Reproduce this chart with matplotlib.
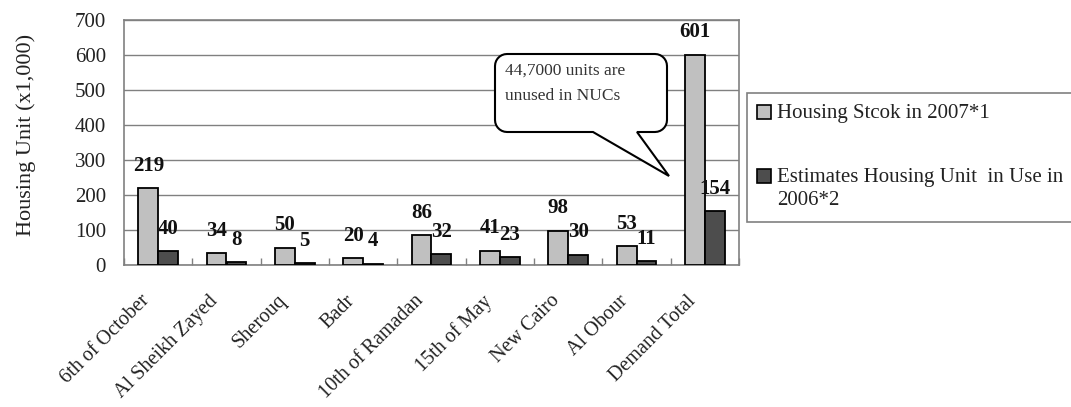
import matplotlib
matplotlib.use("Agg")
import matplotlib.pyplot as plt
import matplotlib.transforms as mtransforms
from matplotlib.path import Path
from matplotlib.patches import PathPatch, Rectangle
import numpy as np

plt.rcParams['font.family'] = ['Liberation Serif', 'DejaVu Serif']

cities = ["6th of October", "Al Sheikh Zayed", "Sherouq", "Badr",
          "10th of Ramadan", "15th of May", "New Cairo", "Al Obour",
          "Demand Total"]
stock_2007 = [219, 34, 50, 20, 86, 41, 98, 53, 601]
in_use_2006 = [40, 8, 5, 4, 32, 23, 30, 11, 154]
y_ticks = [0, 100, 200, 300, 400, 500, 600, 700]

label_stock = "Housing Stcok in 2007*1"
label_use = "Estimates Housing Unit  in Use in\n2006*2"
callout_text = "44,7000 units are\nunused in NUCs"

color_stock = "#c0c0c0"
color_use = "#4d4d4d"
grey_edge = "#808080"
text_color = "#222222"

W, H = 1071, 407
fig = plt.figure(figsize=(W / 100, H / 100), dpi=100)
ax_l, ax_r, ax_t, ax_b = 124, 739, 20, 265
ax = fig.add_axes([ax_l / W, 1 - ax_b / H, (ax_r - ax_l) / W, (ax_b - ax_t) / H])

x = np.arange(len(cities))
bw = 0.29
b1 = ax.bar(x - bw / 2, stock_2007, bw, color=color_stock, edgecolor="black",
            linewidth=1.3, zorder=3)
b2 = ax.bar(x + bw / 2, in_use_2006, bw, color=color_use, edgecolor="black",
            linewidth=1.3, zorder=3)

ax.set_xlim(-0.5, len(cities) - 0.5)
ax.set_ylim(0, 700)
ax.set_yticks(y_ticks)
ax.yaxis.grid(True, color=grey_edge, linewidth=1.0, zorder=0)
for s in ax.spines.values():
    s.set_color(grey_edge)
    s.set_linewidth(1.2)
ax.tick_params(axis='y', length=0, pad=13, labelsize=15, colors=text_color)

ax.set_xticks(x)
ax.set_xticks(np.arange(len(cities) + 1) - 0.5, minor=True)
ax.tick_params(axis='x', which='major', length=0, pad=19, labelsize=14.5)
ax.tick_params(axis='x', which='minor', direction='in', length=5,
               color=grey_edge, width=1)
ax.set_xticklabels(cities, rotation=45, ha='right', va='top',
                   rotation_mode='anchor', color=text_color)
shift = mtransforms.ScaledTranslation(-18 / 100, 0, fig.dpi_scale_trans)
for lab in ax.get_xticklabels():
    lab.set_transform(lab.get_transform() + shift)

ax.set_ylabel("Housing Unit (x1,000)", fontsize=16, color=text_color)
ax.yaxis.set_label_coords((36 - ax_l) / (ax_r - ax_l), (ax_b - 135) / (ax_b - ax_t))

for bars, vals in ((b1, stock_2007), (b2, in_use_2006)):
    for rect, v in zip(bars, vals):
        ax.annotate(str(v), (rect.get_x() + rect.get_width() / 2, v),
                    xytext=(0, 16), textcoords="offset points",
                    ha="center", va="center", fontsize=15, fontweight="bold",
                    color="#111111", zorder=5)

# Speech-bubble callout, laid out in pixels and converted to axes fractions
def to_axes(px, py):
    return ((px - ax_l) / (ax_r - ax_l), (ax_b - py) / (ax_b - ax_t))

bx0, bx1, by0, by1, r = 495, 667, 54, 132, 12
base_l, base_r, tip = 593, 637, (669, 176)
pts = []
def arc(cx, cy, a0, a1):
    for a in np.linspace(np.radians(a0), np.radians(a1), 8):
        pts.append((cx + r * np.cos(a), cy + r * np.sin(a)))
# pixel y grows downward
arc(bx0 + r, by0 + r, 180, 270)
arc(bx1 - r, by0 + r, 270, 360)
arc(bx1 - r, by1 - r, 0, 90)
pts.append((base_r, by1))
pts.append(tip)
pts.append((base_l, by1))
arc(bx0 + r, by1 - r, 90, 180)
pts.append(pts[0])
verts = [to_axes(px, py) for px, py in pts]
codes = [Path.MOVETO] + [Path.LINETO] * (len(verts) - 2) + [Path.CLOSEPOLY]
bubble = PathPatch(Path(verts, codes), facecolor="white", edgecolor="black",
                   linewidth=1.5, transform=ax.transAxes, zorder=6, clip_on=False)
ax.add_patch(bubble)
tx, ty = to_axes(505, 83)
ax.text(tx, ty, callout_text, transform=ax.transAxes, ha="left", va="center",
        fontsize=12.5, color="#333333", linespacing=1.75, zorder=7)

# Legend box drawn by hand so the marker sits beside the first line of each entry
def fig_xy(px, py):
    return (px / W, 1 - py / H)

lx0, ly0, lx1, ly1 = 747, 93, 1080, 222
fx, fy = fig_xy(lx0, ly1)
fig.patches.append(Rectangle((fx, fy), (lx1 - lx0) / W, (ly1 - ly0) / H,
                             transform=fig.transFigure, facecolor="white",
                             edgecolor=grey_edge, linewidth=1.2))
sq = 14
for (row_y, col, lab) in ((112, color_stock, label_stock),
                          (176, color_use, label_use)):
    sx, sy = fig_xy(757, row_y + sq / 2)
    fig.patches.append(Rectangle((sx, sy), sq / W, sq / H,
                                 transform=fig.transFigure, facecolor=col,
                                 edgecolor="black", linewidth=1.2))
    t_x, t_y = fig_xy(777, row_y - 8)
    fig.text(t_x, t_y, lab, ha="left", va="top", fontsize=15,
             color=text_color, linespacing=1.3)

fig.savefig("out.png", dpi=100, facecolor="white")
